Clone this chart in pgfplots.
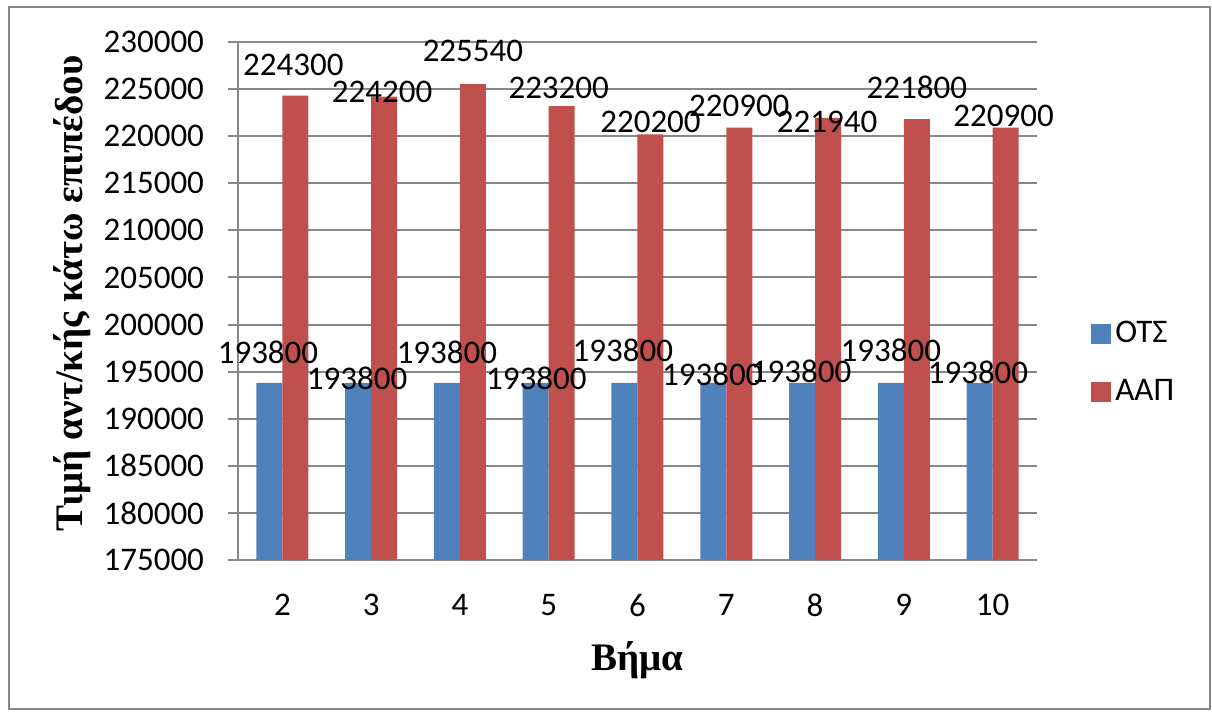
\documentclass[border=0pt]{standalone}
\usepackage{fontspec}
\setmainfont{Carlito}
\newfontfamily\labelfont{Liberation Serif}
\usepackage{pgfplots}
\pgfplotsset{compat=1.18}
\usepackage{pgfplotstable}

\definecolor{otsblue}{HTML}{4F81BD}
\definecolor{aapred}{HTML}{C0504D}
\definecolor{gridgray}{HTML}{878787}

% step, value, label offsets (pt) from the bar top
\pgfplotstableread{
step value dx dy
2  193800 -0.7 15.5
3  193800 -0.5 2.5
4  193800  0.0 15.5
5  193800  0.3 2.5
6  193800 -0.8 16.5
7  193800 -0.5 4.5
8  193800 -0.5 6.0
9  193800  0.0 16.5
10 193800 -0.8 5.5
}\otsdata

\pgfplotstableread{
step value dx dy
2  224300 -1.0 15.5
3  224200 -1.0 2.5
4  225540  0.0 16.5
5  223200 -1.5 9.0
6  220200  0.0 6.0
7  220900  0.0 11.0
8  221940 -0.5 -2.0
9  221800  0.0 16.0
10 220900 -1.0 6.0
}\aapdata

\pgfplotsset{
  value labels/.style={
    nodes near coords,
    point meta=explicit,
    visualization depends on={\thisrow{dx} \as \labeldx},
    visualization depends on={\thisrow{dy} \as \labeldy},
    every node near coord/.append style={anchor=center, xshift=\labeldx pt,
      yshift=\labeldy pt, font=\fontsize{16.5}{19}\selectfont, text=black, inner sep=0pt},
  },
}

\begin{document}
\begin{tikzpicture}
\useasboundingbox (-119pt,-76.5pt) rectangle (487pt,280pt);
\draw[gridgray, line width=1pt] (-114.5pt,-74.5pt) rectangle (486pt,276.5pt);
\begin{axis}[
  scale only axis, width=399.5pt, height=259pt,
  at={(0pt,0pt)}, anchor=south west,
  ybar=0pt, bar width=13pt,
  xmin=1.5, xmax=10.5, ymin=175000, ymax=230000,
  xtick={2,3,4,5,6,7,8,9,10},
  ytick={175000,180000,185000,190000,195000,200000,205000,210000,215000,220000,225000,230000},
  scaled y ticks=false,
  /pgf/number format/fixed,
  /pgf/number format/precision=0,
  /pgf/number format/set thousands separator={},
  /pgf/number format/assume math mode=true,
  axis lines*=left,
  axis line style={gridgray, line width=1pt},
  ymajorgrids,
  grid style={gridgray, line width=1pt},
  tick align=outside, major tick length=5pt,
  y tick style={gridgray, line width=1pt},
  x tick style={draw=none},
  tick label style={font=\fontsize{16.5}{19}\selectfont},
  yticklabel style={xshift=-8.5pt},
  xticklabel style={yshift=-8.5pt},
  xlabel={Βήμα},
  ylabel={Τιμή αντ/κής κάτω επιπέδου},
  label style={font=\labelfont\bfseries\fontsize{19.5}{22}\selectfont},
  xlabel style={at={(axis description cs:0.5,-0.193)}, anchor=center},
  ylabel style={at={(axis description cs:-0.2078,0.5145)}, anchor=center},
  legend style={draw=none, fill=none, at={(1.0600,0.381)}, anchor=west,
    font=\fontsize{16.5}{19}\selectfont, row sep=13pt},
  legend cell align=left,
  legend image code/.code={\fill[#1] (0pt,-5pt) rectangle (10pt,5pt);},
]
\addplot[fill=otsblue, draw=none, value labels]
  table[x=step, y=value, meta=value] {\otsdata};
\addplot[fill=aapred, draw=none, value labels]
  table[x=step, y=value, meta=value] {\aapdata};
\legend{ΟΤΣ, ΑΑΠ}
\end{axis}
\end{tikzpicture}
\end{document}
